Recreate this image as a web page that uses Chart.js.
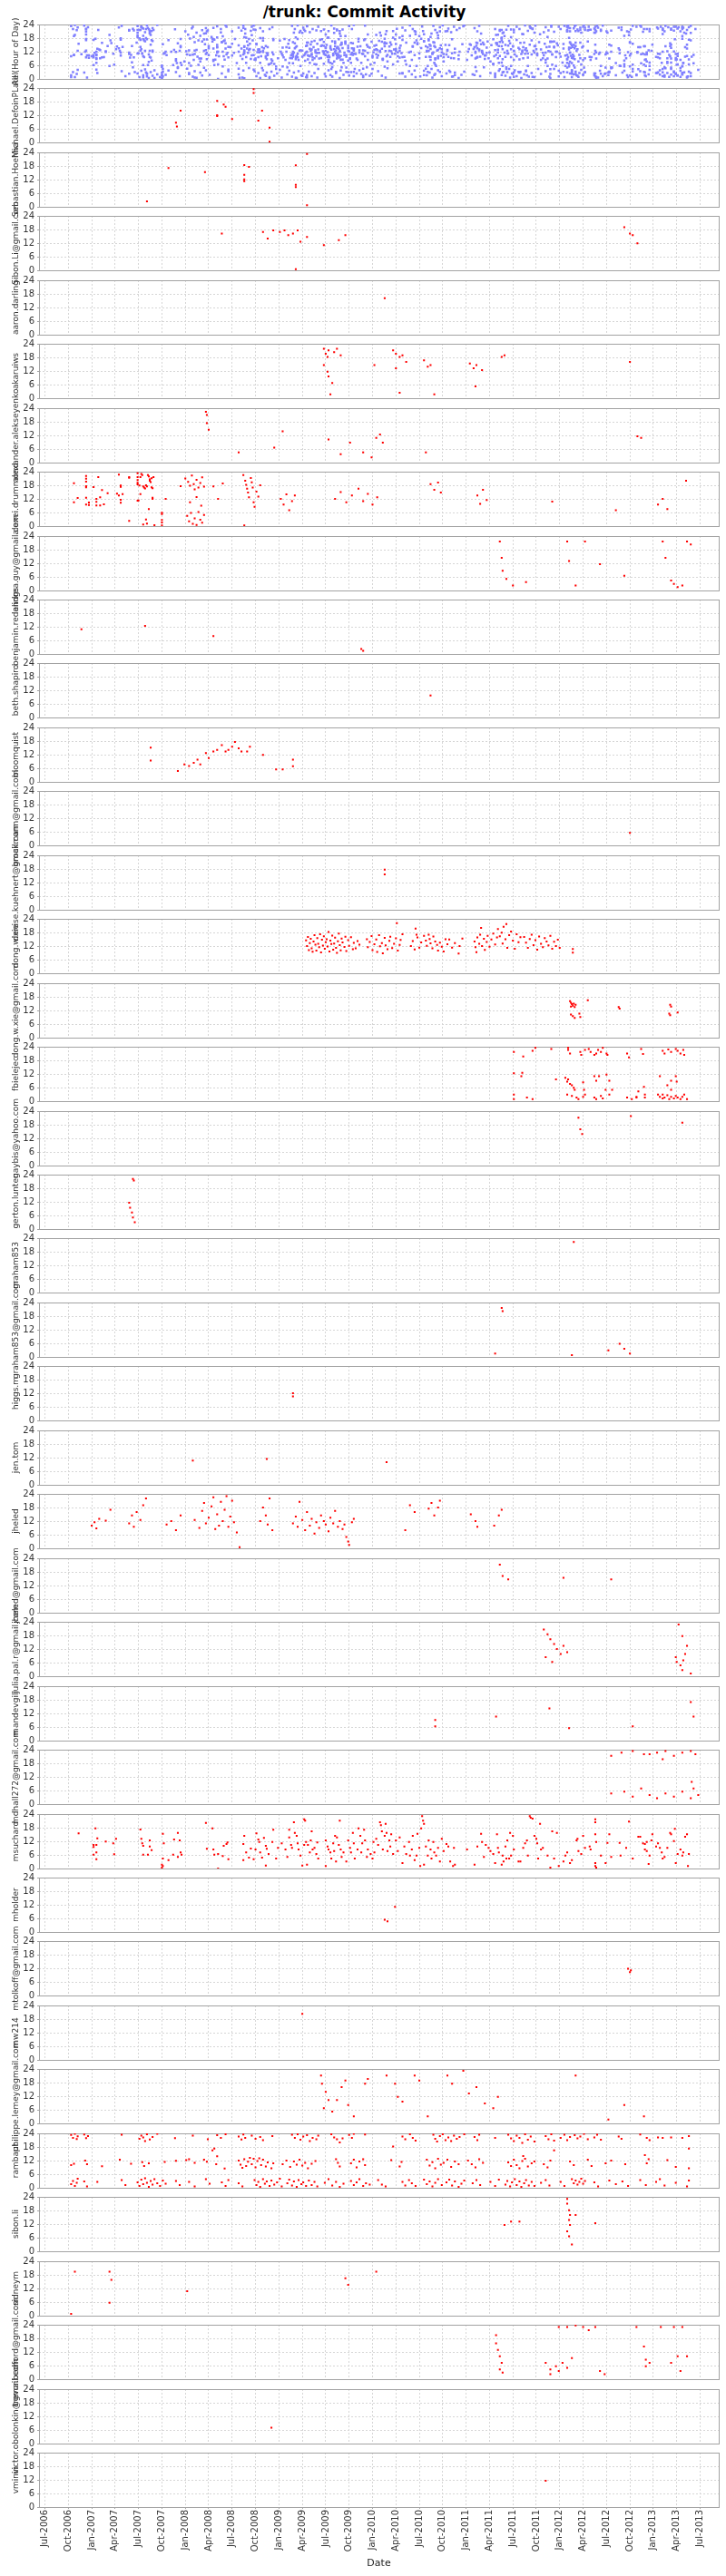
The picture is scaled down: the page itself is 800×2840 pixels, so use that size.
<!DOCTYPE html>
<html><head><meta charset="utf-8">
<script src="https://cdn.jsdelivr.net/npm/chart.js@4.4.1/dist/chart.umd.min.js"></script>
<style>
html,body{margin:0;padding:0;background:#fff;}
body{width:800px;height:2840px;position:relative;overflow:hidden;}
#title{position:absolute;left:0;top:3px;width:803px;text-align:center;font:bold 17px "DejaVu Sans";line-height:20px;color:#000;}
canvas{position:absolute;left:0;}
</style></head><body>
<div id="title">/trunk: Commit Activity</div>
<script>
// ---- axis labels ----
const xTickLabels = ['Jul-2006','Oct-2006','Jan-2007','Apr-2007','Jul-2007','Oct-2007','Jan-2008','Apr-2008','Jul-2008','Oct-2008','Jan-2009','Apr-2009','Jul-2009','Oct-2009','Jan-2010','Apr-2010','Jul-2010','Oct-2010','Jan-2011','Apr-2011','Jul-2011','Oct-2011','Jan-2012','Apr-2012','Jul-2012','Oct-2012','Jan-2013','Apr-2013','Jul-2013'];
const hourTicks = [0,6,12,18,24];
const authorNames = ['Michael.DefoinPLatel','Sebastian.Hoehna','Sibon.Li@gmail.com','aaron.darling','akaruiws','alexander.alekseyenko','alexei.drummond','andrea.guy@gmail.com','benjamin.redelings','beth.shapiro','bloomquist','brockmann@gmail.com','denise.kuehnert@gmail.com','dong.w.xie','dong.w.xie@gmail.com','fbielejec','gaybis@yahoo.com','gerton.lunter','graham853','graham853@gmail.com','higgs.m','jen.tom','jheled','jheled@gmail.com','julia.pal.r@gmail.com','mandevgill','mdhall272@gmail.com','msuchard','mholder','mtolkoff@gmail.com','mw214','philippe.lemey@gmail.com','rambaut','sibon.li','sidneym','trevor.bedford@gmail.com','victor.obolonkin@gmail.com','vminin'];

// ---- commits per author: [decimal year, hour of day] ----
const defoinPlatel = [[2007.95,14.0],[2007.90,8.7],[2007.91,7.0],[2008.34,18.3],[2008.34,12.0],[2008.34,11.6],[2008.41,16.7],[2008.43,15.7],[2008.50,10.3],[2008.73,23.5],[2008.73,21.8],[2008.78,9.6],[2008.82,14.0],[2008.90,6.5],[2008.90,0.3]];
const hoehna = [[2007.59,2.4],[2007.82,17.1],[2008.21,15.3],[2008.63,18.4],[2008.63,14.1],[2008.63,12.1],[2008.63,11.3],[2008.68,17.6],[2009.18,18.3],[2009.18,9.7],[2009.18,8.7],[2009.30,23.3],[2009.30,0.7]];
const sibonLiGmail = [[2008.39,16.2],[2008.83,16.9],[2008.88,14.0],[2008.94,17.6],[2009.01,16.9],[2009.06,17.6],[2009.10,15.5],[2009.15,16.2],[2009.20,17.6],[2009.23,12.6],[2009.30,14.7],[2009.18,0.5],[2009.48,11.1],[2009.64,13.3],[2009.71,15.5],[2012.69,19.0],[2012.75,16.2],[2012.78,15.5],[2012.83,11.9]];
const aaronDarling = [[2010.13,16.1]];
const akaruiws = [[2009.48,21.8],[2009.50,19.6],[2009.52,18.2],[2009.53,21.1],[2009.59,20.3],[2009.62,21.8],[2009.66,18.9],[2009.48,14.6],[2009.52,11.7],[2009.53,9.6],[2009.55,1.7],[2009.57,6.7],[2010.02,14.6],[2010.22,21.1],[2010.25,19.6],[2010.29,18.2],[2010.32,18.9],[2010.36,16.0],[2010.25,13.2],[2010.29,2.4],[2010.55,16.7],[2010.59,13.9],[2010.62,14.6],[2010.66,1.7],[2011.04,15.3],[2011.08,13.2],[2011.11,14.6],[2011.17,12.4],[2011.10,5.2],[2011.38,18.2],[2011.41,18.9],[2012.75,16.0]];
const alekseyenko = [[2008.22,22.4],[2008.23,21.0],[2008.23,17.4],[2008.25,14.5],[2008.57,4.5],[2008.95,6.6],[2009.04,13.8],[2009.53,10.2],[2009.66,3.7],[2009.76,8.8],[2009.90,4.5],[2009.99,2.3],[2010.04,10.9],[2010.08,12.4],[2010.11,8.8],[2010.57,4.5],[2012.83,11.6],[2012.87,10.9]];
const drummond = [[2006.81,18.9],[2006.81,10.5],[2006.85,12.4],[2006.94,22.1],[2006.94,20.9],[2006.94,19.6],[2006.94,17.6],[2006.94,17.1],[2006.94,12.5],[2006.94,9.5],[2006.97,10.4],[2006.97,9.3],[2007.02,17.2],[2007.05,12.0],[2007.05,10.7],[2007.05,9.1],[2007.07,21.6],[2007.09,12.7],[2007.09,9.1],[2007.11,15.9],[2007.13,9.6],[2007.17,14.5],[2007.27,14.3],[2007.29,22.7],[2007.29,13.5],[2007.31,17.9],[2007.31,17.3],[2007.31,11.6],[2007.31,10.3],[2007.33,14.1],[2007.40,21.6],[2007.40,21.3],[2007.40,2.3],[2007.49,23.3],[2007.49,21.6],[2007.49,20.3],[2007.49,19.1],[2007.49,18.4],[2007.49,11.2],[2007.50,11.3],[2007.51,17.9],[2007.52,21.6],[2007.52,14.1],[2007.53,23.0],[2007.54,22.5],[2007.55,17.5],[2007.55,0.7],[2007.56,17.0],[2007.57,16.6],[2007.58,18.0],[2007.58,2.9],[2007.59,17.5],[2007.59,1.1],[2007.60,22.5],[2007.61,21.9],[2007.61,7.5],[2007.62,20.6],[2007.62,20.0],[2007.63,19.4],[2007.64,21.1],[2007.64,17.1],[2007.65,16.7],[2007.65,12.5],[2007.65,12.0],[2007.66,21.6],[2007.67,0.4],[2007.75,5.9],[2007.75,5.3],[2007.75,2.7],[2007.75,1.6],[2007.75,0.3],[2007.79,12.0],[2007.95,17.6],
[2008.00,21.0],[2008.03,19.5],[2008.05,17.8],[2008.07,22.3],[2008.09,18.5],[2008.10,16.2],[2008.12,20.4],[2008.14,17.0],[2008.16,19.0],[2008.18,21.5],[2008.20,17.4],[2008.02,4.5],[2008.04,2.1],[2008.06,5.8],[2008.08,1.0],[2008.10,3.4],[2008.12,0.5],[2008.14,6.2],[2008.16,2.8],[2008.18,1.5],[2008.20,4.9],[2008.05,10.5],[2008.12,12.8],[2008.17,9.0],[2008.30,17.5],[2008.35,12.0],[2008.40,18.8],[2008.62,22.5],[2008.64,20.0],[2008.65,18.2],[2008.66,16.5],[2008.67,14.8],[2008.68,12.7],[2008.70,21.2],[2008.71,19.3],[2008.72,17.0],[2008.73,10.5],[2008.74,8.5],[2008.76,15.2],[2008.78,13.0],[2008.63,0.3],[2008.80,18.0],[2009.02,12.0],[2009.05,9.5],[2009.08,14.0],[2009.11,7.0],[2009.14,11.0],[2009.17,13.5],[2009.60,12.0],[2009.66,15.0],[2009.72,10.5],[2009.78,13.5],[2009.85,16.5],[2009.90,11.0],[2009.95,14.2],[2010.00,9.5],[2010.05,12.7],[2010.62,18.5],[2010.66,16.0],[2010.70,19.2],[2010.73,14.8],[2011.12,13.5],[2011.15,9.8],[2011.18,16.0],[2011.22,11.5],[2011.92,10.8],[2012.60,7.0],[2013.05,9.5],[2013.10,12.0],[2013.15,7.5],[2013.35,20.0]];
const guyGmail = [[2011.36,21.6],[2011.38,14.4],[2011.39,8.7],[2011.43,5.1],[2011.50,2.2],[2011.64,3.7],[2012.10,13.0],[2012.08,21.6],[2012.17,2.2],[2012.27,21.6],[2012.43,11.6],[2012.69,6.5],[2013.10,21.6],[2013.13,14.4],[2013.19,4.4],[2013.22,2.9],[2013.26,1.5],[2013.31,2.2],[2013.36,21.6],[2013.40,20.3]];
const redelings = [[2006.89,10.9],[2007.57,12.4],[2008.30,7.9],[2009.88,2.2],[2009.90,1.4]];
const shapiro = [[2010.62,9.7]];
const bloomquist = [[2007.63,15.1],[2007.63,9.4],[2007.92,4.8],[2007.99,7.7],[2008.04,7.0],[2008.09,8.4],[2008.13,9.8],[2008.16,7.7],[2008.22,12.7],[2008.25,10.5],[2008.30,13.4],[2008.34,14.1],[2008.39,16.2],[2008.43,13.4],[2008.46,14.1],[2008.50,15.5],[2008.53,17.6],[2008.57,14.8],[2008.60,13.4],[2008.66,13.4],[2008.69,15.5],[2008.83,11.9],[2008.97,5.5],[2009.04,5.5],[2009.15,6.9],[2009.15,9.8]];
const brockmann = [[2012.75,5.5]];
const kuehnert = [[2010.13,17.7],[2010.13,15.6]];
const dongXie = [[2009.29,14.5],[2009.30,12.0],[2009.31,16.0],[2009.32,10.2],[2009.33,13.3],[2009.34,15.2],[2009.35,11.0],[2009.36,9.5],[2009.37,14.0],[2009.38,16.8],[2009.39,12.6],[2009.40,10.0],[2009.41,15.5],[2009.42,13.0],[2009.43,11.5],[2009.44,17.2],[2009.45,9.2],[2009.46,14.8],[2009.47,12.2],[2009.48,16.3],[2009.49,10.8],[2009.50,13.7],[2009.51,15.0],[2009.52,11.8],[2009.53,18.2],[2009.54,9.6],[2009.55,14.4],[2009.56,12.9],[2009.57,16.6],[2009.58,10.4],[2009.59,13.1],[2009.60,15.7],[2009.61,11.2],[2009.62,9.0],[2009.63,14.1],[2009.64,17.5],[2009.65,12.4],[2009.66,10.1],[2009.67,15.3],[2009.68,13.6],[2009.70,11.6],[2009.71,16.1],[2009.72,9.8],[2009.74,14.6],[2009.75,12.1],[2009.77,15.9],[2009.79,10.6],[2009.80,13.4],[2009.82,11.0],[2009.84,14.2],[2009.86,12.6],
[2009.94,15.0],[2009.95,11.5],[2009.97,13.8],[2009.99,16.4],[2010.00,10.2],[2010.02,12.8],[2010.04,14.9],[2010.05,9.4],[2010.07,16.8],[2010.08,11.9],[2010.10,13.3],[2010.11,8.8],[2010.13,15.6],[2010.14,12.3],[2010.16,10.6],[2010.18,14.3],[2010.19,16.1],[2010.21,11.1],[2010.23,13.0],[2010.25,15.4],[2010.26,22.1],[2010.27,10.0],[2010.29,12.5],[2010.30,14.7],[2010.32,17.2],
[2010.41,12.0],[2010.43,14.2],[2010.45,10.5],[2010.46,19.7],[2010.47,17.0],[2010.48,15.8],[2010.50,11.3],[2010.52,13.6],[2010.55,16.5],[2010.57,14.4],[2010.58,12.1],[2010.60,17.0],[2010.61,15.1],[2010.62,13.2],[2010.64,11.0],[2010.65,16.2],[2010.67,14.0],[2010.69,12.5],[2010.70,10.0],[2010.72,13.5],[2010.74,11.7],[2010.76,9.6],[2010.78,15.0],[2010.80,12.8],[2010.82,14.9],[2010.85,11.3],[2010.88,13.3],[2010.92,8.7],[2010.93,12.0],[2010.96,15.3],
[2011.09,14.0],[2011.10,11.5],[2011.11,9.3],[2011.12,15.8],[2011.14,13.0],[2011.15,17.0],[2011.16,20.0],[2011.17,12.0],[2011.19,15.2],[2011.20,10.3],[2011.22,13.8],[2011.23,16.5],[2011.25,11.7],[2011.27,14.9],[2011.29,17.5],[2011.31,12.7],[2011.33,15.8],[2011.34,19.5],[2011.36,16.3],[2011.38,17.9],[2011.39,13.1],[2011.40,20.5],[2011.42,15.0],[2011.43,21.7],[2011.44,11.2],[2011.46,16.8],[2011.48,18.4],[2011.50,14.4],[2011.52,10.8],[2011.54,17.2],[2011.56,13.7],[2011.58,15.9],
[2011.62,16.0],[2011.64,13.5],[2011.66,11.2],[2011.68,15.1],[2011.70,17.0],[2011.72,12.4],[2011.74,14.6],[2011.76,10.4],[2011.78,16.2],[2011.80,13.0],[2011.82,11.5],[2011.84,15.5],[2011.86,14.0],[2011.88,12.3],[2011.90,16.5],[2011.92,10.8],[2011.94,13.9],[2011.96,12.0],[2011.98,14.8],[2012.00,11.2],[2012.14,10.7],[2012.14,9.1]];
const dongXieGmail = [[2012.11,16.1],[2012.12,15.4],[2012.13,14.8],[2012.14,14.1],[2012.15,15.0],[2012.16,13.5],[2012.12,13.7],[2012.17,14.5],[2012.30,16.5],[2012.12,10.2],[2012.14,9.5],[2012.16,8.7],[2012.21,10.6],[2012.22,9.1],[2012.63,13.5],[2012.64,12.8],[2013.18,14.5],[2013.19,13.7],[2013.17,10.6],[2013.18,9.9],[2013.26,11.1]];
const bielejec = [[2011.51,21.7],[2011.61,19.7],[2011.71,22.2],[2011.74,23.5],[2011.91,23.0],[2012.09,23.5],[2012.09,22.6],[2012.11,21.0],[2012.22,21.7],[2012.23,20.4],[2012.27,22.6],[2012.31,23.0],[2012.33,21.7],[2012.37,20.4],[2012.39,21.0],[2012.41,22.6],[2012.44,21.7],[2012.46,23.5],[2012.50,21.0],[2012.51,20.4],[2012.72,21.0],[2012.74,19.3],[2012.87,23.0],[2012.89,20.8],[2013.10,22.2],[2013.12,21.0],[2013.16,22.8],[2013.19,21.7],[2013.24,23.0],[2013.26,22.2],[2013.29,21.0],[2013.32,22.6],[2013.33,20.4],
[2011.51,12.3],[2011.59,11.0],[2011.60,12.5],[2011.96,9.6],[2012.06,10.3],[2012.08,8.6],[2012.11,7.6],[2012.13,7.0],[2012.15,5.9],[2012.16,5.0],[2012.09,9.6],[2012.25,8.3],[2012.26,5.0],[2012.27,2.9],[2012.37,11.0],[2012.39,9.0],[2012.42,11.0],[2012.49,5.0],[2012.50,11.7],[2012.53,9.0],[2012.56,5.0],[2012.53,2.9],[2012.82,1.6],[2012.84,4.3],[2012.90,6.3],[2012.91,2.9],[2013.07,11.0],[2013.10,2.9],[2013.15,7.0],[2013.19,9.0],[2013.24,11.0],[2013.25,8.6],[2013.19,5.0],
[2011.51,2.9],[2011.51,0.9],[2011.65,1.6],[2011.71,0.9],[2012.08,2.9],[2012.13,2.3],[2012.18,1.6],[2012.20,0.9],[2012.25,1.9],[2012.37,1.6],[2012.39,0.9],[2012.44,2.3],[2012.46,1.2],[2012.72,1.6],[2012.77,0.9],[2012.82,1.9],[2012.91,1.6],[2013.05,2.9],[2013.07,1.9],[2013.10,1.2],[2013.12,1.6],[2013.15,2.6],[2013.17,0.9],[2013.19,1.9],[2013.22,1.2],[2013.24,2.3],[2013.26,1.6],[2013.29,0.9],[2013.31,1.9],[2013.33,2.9],[2013.36,0.9]];
const gaybis = [[2012.20,21.1],[2012.22,16.0],[2012.24,13.9],[2012.76,21.8],[2013.31,18.9]];
const lunter = [[2007.44,22.1],[2007.45,21.4],[2007.40,11.6],[2007.41,9.4],[2007.43,7.3],[2007.44,5.1],[2007.46,3.0]];
const graham853 = [[2012.15,22.3]];
const graham853Gmail = [[2011.38,21.6],[2011.39,20.2],[2011.31,1.5],[2012.13,0.8],[2012.52,2.9],[2012.64,5.8],[2012.69,3.6],[2012.75,1.5]];
const higgs = [[2009.15,12.0],[2009.15,10.6]];
const jenTom = [[2008.08,10.7],[2008.87,11.4],[2010.15,10.0]];
const heled = [[2007.00,10.0],[2007.03,11.5],[2007.05,8.8],[2007.08,13.0],[2007.15,12.2],[2007.20,17.0],[2007.40,11.0],[2007.43,14.5],[2007.45,9.5],[2007.48,16.0],[2007.52,12.5],[2007.55,19.0],[2007.58,22.0],[2007.80,10.5],[2007.85,12.0],[2007.90,8.0],[2007.95,14.5],[2008.10,12.5],[2008.15,9.0],[2008.18,16.5],[2008.20,20.0],[2008.22,11.0],[2008.25,13.5],[2008.28,18.5],[2008.30,22.5],[2008.32,8.5],[2008.34,15.0],[2008.36,10.0],[2008.38,20.5],[2008.40,12.0],[2008.42,17.0],[2008.44,23.0],[2008.46,9.5],[2008.48,14.0],[2008.50,21.0],[2008.52,11.5],[2008.55,7.0],[2008.58,0.5],[2008.80,12.0],[2008.83,18.0],[2008.86,14.5],[2008.88,10.5],[2008.90,22.0],[2008.93,8.0],[2009.15,11.0],[2009.18,14.0],[2009.20,9.5],[2009.22,20.5],[2009.25,12.5],[2009.28,8.0],[2009.30,16.0],[2009.33,10.0],[2009.35,13.0],[2009.38,6.5],[2009.40,11.5],[2009.43,9.0],[2009.45,14.5],[2009.48,12.0],[2009.50,10.5],[2009.53,7.5],[2009.55,13.5],[2009.58,11.0],[2009.60,16.5],[2009.63,9.5],[2009.65,12.0],[2009.68,8.5],[2009.70,10.5],[2009.72,5.0],[2009.74,3.0],[2009.75,1.5],[2009.78,11.5],[2009.80,13.0],[2010.35,8.0],[2010.40,19.0],[2010.45,16.0],[2010.60,17.5],[2010.63,20.0],[2010.66,14.5],[2010.70,18.0],[2010.72,21.0],[2011.05,15.0],[2011.10,12.0],[2011.12,9.5],[2011.30,10.0],[2011.35,14.5],[2011.38,17.0]];
const heledGmail = [[2011.36,21.2],[2011.39,16.2],[2011.45,14.7],[2012.04,15.4],[2012.55,14.7]];
const juliaPal = [[2011.83,20.6],[2011.87,18.5],[2011.90,16.3],[2011.94,14.2],[2011.97,12.0],[2012.01,9.8],[2012.04,13.4],[2012.08,10.6],[2011.85,8.4],[2011.92,6.3],[2013.24,8.4],[2013.25,6.3],[2013.29,4.8],[2013.31,2.7],[2013.32,7.0],[2013.34,9.8],[2013.36,13.4],[2013.27,22.8],[2013.31,17.7],[2013.40,1.2]];
const mandevgill = [[2010.67,9.1],[2010.67,6.3],[2011.32,10.6],[2011.89,14.2],[2012.10,5.5],[2012.78,6.3],[2013.40,17.0],[2013.43,10.6]];
const mdhall = [[2012.55,21.3],[2012.66,22.7],[2012.78,23.4],[2012.90,22.0],[2012.96,22.0],[2013.04,22.7],[2013.10,19.8],[2013.13,23.4],[2013.22,21.3],[2013.31,22.7],[2013.40,23.4],[2013.45,22.0],[2012.55,4.7],[2012.69,5.5],[2012.78,3.3],[2012.87,6.9],[2012.96,4.0],[2013.04,2.6],[2013.13,4.7],[2013.22,3.3],[2013.31,5.5],[2013.40,2.6],[2013.43,6.9],[2013.48,4.0],[2013.41,9.8]];
const suchard = [[2006.86,15.5],[2007.04,17.7],[2007.02,10.4],[2007.02,9.5],[2007.05,10.4],[2007.05,7.1],[2007.05,4.1],[2007.02,6.1],[2007.06,13.3],[2007.15,11.9],[2007.23,11.1],[2007.26,13.1],[2007.24,6.3],
[2007.52,17.2],[2007.53,13.1],[2007.54,11.1],[2007.55,10.0],[2007.55,6.1],[2007.60,6.1],[2007.62,12.4],[2007.64,8.1],[2007.62,9.7],[2007.76,15.3],[2007.77,11.1],[2007.76,4.4],[2007.75,1.7],[2007.75,0.4],[2007.76,1.1],[2007.82,3.7],[2007.87,6.1],[2007.88,12.8],[2007.92,15.7],[2007.94,12.4],[2007.95,7.1],[2007.96,6.1],[2007.92,5.1],
[2008.22,20.1],[2008.29,17.7],[2008.23,8.7],[2008.30,8.4],[2008.31,6.1],[2008.35,6.4],[2008.35,0.0],[2008.40,5.5],[2008.44,10.8],[2008.46,4.1],[2008.45,11.5],[2008.41,10.0],
[2008.62,10.8],[2008.63,14.4],[2008.62,3.7],[2008.65,7.1],[2008.68,4.8],[2008.70,8.8],[2008.73,4.1],[2008.75,8.4],[2008.76,15.5],[2008.78,12.8],[2008.79,11.7],[2008.80,7.1],[2008.82,4.8],[2008.84,13.5],[2008.86,10.0],[2008.86,1.3],[2008.87,8.7],[2008.89,6.4],[2008.93,11.7],[2008.94,17.1],[2008.97,4.4],[2008.99,9.1],[2009.03,11.1],[2009.07,8.4],[2009.09,5.1],[2009.11,17.1],[2009.11,13.7],[2009.13,10.4],[2009.14,9.1],[2009.16,20.4],[2009.17,15.7],[2009.19,14.4],[2009.20,11.1],[2009.21,8.4],[2009.23,5.7],[2009.25,1.3],[2009.27,10.4],[2009.27,21.7],[2009.28,21.1],[2009.29,11.7],[2009.30,1.7],[2009.31,10.4],[2009.33,7.1],[2009.34,12.4],[2009.35,16.4],[2009.36,8.4],[2009.38,9.1],[2009.40,6.4],[2009.41,11.5],[2009.42,4.4],
[2009.50,12.4],[2009.50,1.1],[2009.52,9.7],[2009.53,8.4],[2009.55,7.1],[2009.56,4.4],[2009.58,11.1],[2009.59,7.7],[2009.60,14.4],[2009.61,3.1],[2009.62,13.7],[2009.64,10.4],[2009.65,21.1],[2009.66,8.4],[2009.67,5.1],[2009.69,7.1],[2009.72,3.1],[2009.74,12.4],[2009.76,9.1],[2009.77,7.1],[2009.79,15.7],[2009.80,11.1],[2009.81,4.4],[2009.84,8.4],[2009.85,17.7],[2009.87,14.4],[2009.88,7.1],[2009.89,11.1],[2009.91,17.1],[2009.92,12.4],[2009.94,5.1],[2009.95,8.4],[2009.98,6.4],[2010.00,4.4],[2010.01,11.7],[2010.02,7.1],[2010.04,13.1],[2010.06,10.4],[2010.08,20.4],[2010.09,19.1],[2010.10,16.4],[2010.11,8.4],[2010.13,14.4],[2010.14,19.7],[2010.15,15.7],[2010.16,7.7],[2010.18,12.4],[2010.19,9.7],[2010.20,15.1],[2010.22,6.4],[2010.25,12.4],[2010.27,7.7],[2010.29,13.7],[2010.32,2.4],[2010.34,9.7],[2010.36,6.4],[2010.39,11.7],[2010.40,5.7],[2010.42,8.4],[2010.43,14.4],[2010.45,3.7],[2010.47,5.7],[2010.48,15.3],[2010.50,9.1],[2010.51,1.1],[2010.52,17.7],[2010.53,23.1],[2010.54,21.1],[2010.55,19.7],[2010.55,1.7],[2010.57,9.7],[2010.59,5.7],[2010.60,12.4],[2010.62,8.4],[2010.63,4.4],[2010.65,11.7],[2010.66,7.1],[2010.68,5.7],[2010.70,9.1],[2010.72,3.1],[2010.74,13.1],[2010.76,7.7],[2010.79,10.8],[2010.81,9.7],[2010.83,3.1],[2010.86,1.1],[2010.87,9.1],[2010.88,1.7],
[2011.01,8.4],[2011.09,1.7],[2011.12,9.7],[2011.16,15.3],[2011.17,11.7],[2011.19,5.1],[2011.21,10.4],[2011.24,9.1],[2011.26,7.7],[2011.29,6.4],[2011.31,2.4],[2011.33,15.1],[2011.34,9.1],[2011.35,7.1],[2011.38,1.7],[2011.39,5.7],[2011.40,3.1],[2011.42,9.7],[2011.43,4.4],[2011.44,12.4],[2011.46,4.4],[2011.47,15.7],[2011.48,5.7],[2011.50,14.4],[2011.51,8.4],[2011.56,3.1],[2011.58,3.1],[2011.61,9.1],[2011.63,11.1],[2011.65,12.4],[2011.66,5.7],[2011.68,23.1],[2011.69,22.4],[2011.71,22.0],[2011.73,14.4],[2011.75,13.1],[2011.76,11.1],[2011.77,4.4],[2011.79,19.7],[2011.80,8.4],[2011.82,9.1],[2011.87,5.7],[2011.90,0.4],[2011.92,16.4],[2011.94,4.4],[2011.97,15.7],[2011.99,1.1],[2012.04,3.1],[2012.06,5.7],[2012.08,7.1],[2012.11,2.4],[2012.13,3.7],[2012.18,12.4],[2012.19,13.1],[2012.20,7.7],[2012.23,6.4],[2012.25,14.4],[2012.27,9.1],[2012.32,9.7],[2012.33,8.4],[2012.38,21.7],[2012.38,20.4],[2012.38,15.1],[2012.39,11.7],[2012.38,2.4],[2012.38,1.1],[2012.39,0.4],[2012.44,5.7],[2012.49,2.4],[2012.51,11.3],[2012.53,15.1],[2012.55,5.1],[2012.64,11.3],[2012.65,5.7],[2012.71,9.1],[2012.74,20.7],[2012.78,4.4],[2012.84,14.0],[2012.86,14.0],[2012.89,11.1],[2012.91,8.4],[2012.93,7.7],[2012.95,2.0],[2012.96,5.7],[2012.98,12.4],[2012.99,15.1],[2013.03,9.7],[2013.05,11.1],[2013.07,9.1],[2013.09,7.1],[2013.10,4.4],[2013.12,5.1],[2013.15,9.1],[2013.18,15.7],[2013.19,15.1],[2013.22,12.1],[2013.23,17.5],[2013.24,2.4],[2013.26,6.4],[2013.29,8.4],[2013.31,5.7],[2013.32,7.1],[2013.34,14.0],[2013.36,15.1],[2013.37,1.1],[2013.38,6.4],[2012.93,11.7],[2012.91,10.8]];
const holder = [[2010.13,5.4],[2010.16,4.7],[2010.24,11.1]];
const tolkoff = [[2012.73,11.8],[2012.75,10.3],[2012.76,11.1]];
const mw214 = [[2009.25,20.3]];
const lemey = [[2009.45,21.1],[2009.46,17.5],[2009.50,13.9],[2009.53,10.3],[2009.48,6.7],[2009.57,5.2],[2009.62,10.3],[2009.67,16.0],[2009.71,18.9],[2009.74,8.1],[2009.80,3.1],[2009.92,17.5],[2009.95,19.6],[2010.15,21.1],[2010.24,17.5],[2010.27,11.7],[2010.32,9.6],[2010.45,21.1],[2010.50,18.9],[2010.59,3.1],[2010.80,21.1],[2010.85,17.5],[2010.97,23.2],[2011.03,13.2],[2011.11,16.0],[2011.20,8.8],[2011.29,6.7],[2011.34,11.7],[2012.17,21.1],[2012.52,1.7],[2012.69,8.1],[2012.90,3.1]];
const rambaut = [[2006.78,23.3],[2006.80,22.0],[2006.82,23.8],[2006.84,21.5],[2006.85,22.7],[2006.92,23.5],[2006.94,21.9],[2006.96,22.8],[2007.32,23.4],[2007.51,21.6],[2007.53,23.0],[2007.55,22.2],[2007.57,20.6],[2007.59,23.6],[2007.62,21.3],[2007.65,22.4],[2007.70,23.8],[2007.89,21.9],[2008.08,23.0],[2008.24,21.4],[2008.34,23.2],[2008.38,22.0],[2008.43,23.6],[2008.57,22.6],[2008.60,21.3],[2008.62,23.5],[2008.64,22.0],[2008.71,23.0],[2008.75,21.6],[2008.80,22.4],[2008.83,21.0],[2008.93,22.8],[2009.14,23.4],[2009.17,22.0],[2009.20,23.6],[2009.23,21.2],[2009.26,22.6],[2009.30,23.2],[2009.33,20.6],[2009.36,22.0],[2009.40,21.4],[2009.42,23.0],[2009.56,23.6],[2009.59,22.2],[2009.62,21.4],[2009.65,20.0],[2009.68,21.8],[2009.75,23.3],[2009.78,22.0],[2009.80,23.8],[2009.92,23.5],[2010.22,18.2],[2010.32,22.6],[2010.35,21.4],[2010.40,23.6],[2010.43,22.0],[2010.46,20.8],[2010.65,23.4],[2010.67,21.6],[2010.69,20.4],[2010.72,22.8],[2010.75,23.6],[2010.78,21.0],[2010.81,22.2],[2010.84,20.6],[2010.87,23.0],[2010.90,21.6],[2010.93,22.4],[2010.98,23.6],[2011.09,22.4],[2011.12,21.0],[2011.14,23.4],[2011.31,22.0],[2011.45,23.4],[2011.48,21.8],[2011.51,20.6],[2011.54,23.0],[2011.57,22.0],[2011.60,19.8],[2011.63,23.6],[2011.66,21.2],[2011.69,22.6],[2011.73,20.4],[2011.85,22.8],[2011.88,21.4],[2011.91,23.6],[2011.94,20.8],[2012.01,22.0],[2012.05,23.4],[2012.08,21.0],[2012.11,22.4],[2012.16,23.2],[2012.19,21.8],[2012.22,22.6],[2012.26,23.8],[2012.30,21.4],[2012.37,22.2],[2012.40,23.4],[2012.44,21.2],[2012.63,22.6],[2012.66,21.6],[2012.86,23.5],[2012.93,22.0],[2012.96,21.0],[2013.05,22.2],[2013.10,22.0],[2013.19,22.2],[2013.31,22.0],[2013.38,22.8],
[2008.29,16.5],[2008.31,17.3],[2008.34,13.9],[2011.61,14.0],[2011.94,16.5],[2012.91,14.4],[2013.38,17.3],
[2006.78,10.0],[2006.81,10.6],[2006.93,12.0],[2006.95,10.4],[2007.11,9.5],[2007.30,12.4],[2007.42,10.6],[2007.54,11.3],[2007.56,9.6],[2007.61,10.8],[2007.78,11.4],[2007.90,11.9],[2008.01,12.2],[2008.04,12.6],[2008.10,11.0],[2008.20,12.4],[2008.23,11.5],[2008.33,10.4],[2008.42,8.5],[2008.57,12.0],[2008.59,10.2],[2008.61,8.8],[2008.63,12.6],[2008.65,9.6],[2008.67,11.5],[2008.69,13.2],[2008.71,10.4],[2008.73,12.8],[2008.75,9.0],[2008.77,11.8],[2008.79,13.0],[2008.81,10.0],[2008.83,12.4],[2008.86,9.4],[2008.88,11.2],[2008.92,8.6],[2008.94,10.8],[2009.04,10.4],[2009.08,12.0],[2009.12,9.2],[2009.16,11.6],[2009.19,10.2],[2009.22,12.4],[2009.25,9.8],[2009.28,11.0],[2009.31,8.6],[2009.35,10.6],[2009.39,11.8],[2009.61,12.6],[2009.63,11.0],[2009.65,9.4],[2009.77,10.8],[2009.80,12.4],[2009.83,9.0],[2009.86,11.6],[2009.90,12.6],[2009.92,10.0],[2010.20,12.2],[2010.29,9.4],[2010.31,11.4],[2010.58,12.4],[2010.61,9.8],[2010.64,11.3],[2010.67,8.6],[2010.70,12.8],[2010.73,10.2],[2010.76,11.0],[2010.80,12.4],[2010.84,9.2],[2010.88,11.6],[2010.92,10.4],[2011.02,12.0],[2011.06,10.4],[2011.10,9.0],[2011.14,12.6],[2011.18,11.0],[2011.45,11.2],[2011.48,9.6],[2011.51,12.4],[2011.54,10.0],[2011.57,8.6],[2011.60,11.8],[2011.63,12.8],[2011.66,9.4],[2011.70,10.8],[2011.73,11.6],[2011.83,10.4],[2011.87,9.0],[2011.90,12.0],[2012.11,11.6],[2012.15,10.0],[2012.30,12.4],[2012.34,9.6],[2012.49,10.8],[2012.55,12.0],[2012.70,10.4],[2012.93,10.8],[2012.95,12.6],[2013.15,12.2],[2013.24,9.2],[2013.38,8.6],
[2006.78,1.6],[2006.80,3.0],[2006.82,0.8],[2006.84,2.2],[2006.85,4.0],[2006.92,2.8],[2006.95,0.6],[2007.06,2.6],[2007.32,3.4],[2007.36,1.2],[2007.49,2.4],[2007.51,0.8],[2007.53,3.6],[2007.55,1.6],[2007.57,4.2],[2007.59,2.2],[2007.61,0.4],[2007.63,3.0],[2007.65,1.4],[2007.67,3.8],[2007.70,2.0],[2007.73,0.8],[2007.76,3.2],[2007.79,1.8],[2007.90,3.0],[2007.94,1.2],[2008.04,2.6],[2008.10,0.6],[2008.22,3.8],[2008.26,1.8],[2008.39,2.4],[2008.43,0.8],[2008.46,3.4],[2008.57,2.0],[2008.61,0.6],[2008.74,3.4],[2008.76,1.2],[2008.78,2.6],[2008.80,0.4],[2008.83,3.8],[2008.85,1.8],[2008.87,2.8],[2008.90,0.8],[2008.92,3.2],[2008.95,1.4],[2008.98,2.4],[2009.01,4.0],[2009.03,0.6],[2009.09,2.0],[2009.11,3.6],[2009.14,1.0],[2009.16,2.8],[2009.19,0.4],[2009.21,3.4],[2009.24,1.6],[2009.26,2.4],[2009.29,0.8],[2009.32,3.2],[2009.35,1.2],[2009.38,2.6],[2009.41,0.6],[2009.49,2.2],[2009.53,3.8],[2009.57,1.0],[2009.61,2.6],[2009.65,0.4],[2009.69,1.8],[2009.77,3.0],[2009.80,1.2],[2009.83,2.4],[2009.86,3.8],[2009.90,0.8],[2009.93,2.0],[2009.97,1.4],[2010.06,3.4],[2010.10,1.4],[2010.14,0.6],[2010.32,2.6],[2010.35,1.0],[2010.39,3.4],[2010.42,2.0],[2010.46,0.8],[2010.55,3.6],[2010.58,1.6],[2010.61,2.8],[2010.64,0.6],[2010.67,2.2],[2010.70,3.8],[2010.74,1.2],[2010.79,2.4],[2010.82,3.6],[2010.85,1.0],[2010.88,2.8],[2010.92,0.4],[2010.95,1.8],[2010.98,3.2],[2011.07,2.0],[2011.11,3.4],[2011.15,1.2],[2011.26,2.6],[2011.31,0.8],[2011.35,3.6],[2011.42,1.4],[2011.44,3.0],[2011.47,0.6],[2011.49,2.4],[2011.52,3.8],[2011.54,1.2],[2011.57,2.8],[2011.59,0.4],[2011.62,2.0],[2011.64,3.4],[2011.67,1.0],[2011.70,2.6],[2011.73,0.8],[2011.80,2.2],[2011.85,3.4],[2011.89,1.0],[2012.01,2.6],[2012.05,0.8],[2012.13,3.8],[2012.15,2.0],[2012.17,3.2],[2012.19,1.4],[2012.21,2.6],[2012.23,4.0],[2012.25,1.8],[2012.27,3.0],[2012.37,2.4],[2012.41,0.6],[2012.53,3.2],[2012.60,1.6],[2012.67,2.8],[2012.73,0.8],[2012.86,3.4],[2012.92,1.2],[2013.03,2.6],[2013.07,3.8],[2013.12,1.0],[2013.24,2.2],[2013.36,0.6],[2013.38,3.2]];
const sibonLi = [[2011.41,11.6],[2011.48,13.1],[2011.57,13.1],[2012.08,23.1],[2012.08,21.0],[2012.10,18.1],[2012.11,16.0],[2012.10,13.8],[2012.11,11.6],[2012.08,8.8],[2012.10,6.6],[2012.13,3.0],[2012.17,16.0],[2012.38,12.4]];
const sidneym = [[2006.78,0.8],[2006.82,19.4],[2007.19,19.4],[2007.21,15.8],[2007.19,5.7],[2008.02,10.8],[2009.71,16.5],[2009.74,13.6],[2010.04,19.4]];
const bedford = [[2011.32,19.4],[2011.32,15.8],[2011.34,12.9],[2011.36,10.1],[2011.38,7.2],[2011.36,4.3],[2011.39,2.9],[2011.85,7.2],[2011.90,4.3],[2011.96,5.7],[2011.99,3.6],[2012.03,7.2],[2012.08,5.0],[2011.90,2.2],[2012.13,9.3],[2011.99,23.0],[2012.08,23.0],[2012.17,23.7],[2012.25,23.0],[2012.31,21.6],[2012.38,23.0],[2012.43,3.6],[2012.48,2.2],[2012.82,23.0],[2012.90,14.4],[2012.92,8.6],[2012.92,5.7],[2012.96,7.2],[2013.08,23.0],[2013.22,23.0],[2013.31,23.0],[2013.19,7.2],[2013.26,10.1],[2013.29,3.6],[2013.36,10.1]];
const obolonkin = [[2008.92,7.0]];
const minin = [[2011.85,11.6]];

const authorData = [defoinPlatel,hoehna,sibonLiGmail,aaronDarling,akaruiws,alekseyenko,drummond,guyGmail,redelings,shapiro,bloomquist,brockmann,kuehnert,dongXie,dongXieGmail,bielejec,gaybis,lunter,graham853,graham853Gmail,higgs,jenTom,heled,heledGmail,juliaPal,mandevgill,mdhall,suchard,holder,tolkoff,mw214,lemey,rambaut,sibonLi,sidneym,bedford,obolonkin,minin];
const allCommits = [].concat(...authorData);

// ---- drawing ----
Chart.defaults.font.family = 'DejaVu Sans';
const monthFrac = {Jan:0, Apr:0.25, Jul:0.5, Oct:0.75};
const xTickValues = xTickLabels.map(l => { const [m, y] = l.split('-'); return +y + monthFrac[m]; });
const X_MIN = 2006.437, X_MAX = 2013.699;

const framePlugin = {
  id: 'frame',
  beforeDatasetsDraw(chart) {
    const {ctx, chartArea: a} = chart;
    ctx.save();
    ctx.strokeStyle = '#a3a3a3';
    ctx.lineWidth = 1;
    ctx.strokeRect(Math.round(a.left) + 0.5, Math.round(a.top) + 0.5, Math.round(a.right - a.left), Math.round(a.bottom - a.top));
    ctx.restore();
  }
};

function makePanel(i, label, data, color, radius, isLast) {
  const plotTop = Math.round(27 + 70.447 * i);
  const padTop = 40, padBottom = isLast ? 0 : 40, xAxisH = isLast ? 69 : 0;
  const h = padTop + 60 + xAxisH + padBottom;
  const cv = document.createElement('canvas');
  cv.width = 800; cv.height = h;
  cv.style.width = '800px'; cv.style.height = h + 'px';
  cv.style.top = (plotTop - padTop) + 'px';
  document.body.appendChild(cv);
  new Chart(cv, {
    type: 'scatter',
    data: { datasets: [{ data: data.map(([x, y]) => ({x, y})), backgroundColor: color, borderWidth: 0, pointStyle: 'rect', pointRadius: radius, pointHoverRadius: radius }] },
    options: {
      responsive: false, animation: false, devicePixelRatio: 1, events: [],
      layout: { padding: { top: padTop, bottom: padBottom, left: 0, right: 8 } },
      plugins: { legend: { display: false }, tooltip: { enabled: false } },
      scales: {
        x: {
          type: 'linear', min: X_MIN, max: X_MAX,
          afterBuildTicks: s => { s.ticks = xTickValues.map(v => ({value: v})); },
          afterFit: s => { s.height = xAxisH; },
          grid: { color: '#d6d6d6', drawTicks: isLast, tickLength: 2, tickColor: '#a3a3a3' },
          border: { display: false, dash: [2, 2] },
          ticks: { display: isLast, autoSkip: false, minRotation: 90, maxRotation: 90, padding: 1, color: '#333', font: { size: 10 },
                   callback: (v, idx) => xTickLabels[idx] },
          title: { display: isLast, text: 'Date', color: '#222', font: { size: 11 }, padding: { top: 0, bottom: 0 } }
        },
        y: {
          min: 0, max: 24,
          afterBuildTicks: s => { s.ticks = hourTicks.map(v => ({value: v})); },
          afterFit: s => { s.width = 43; },
          grid: { color: '#d6d6d6', tickLength: 2, tickColor: '#a3a3a3' },
          border: { display: false, dash: [2, 2] },
          ticks: { color: '#333', padding: 3, font: { size: 10 } },
          title: { display: true, text: label, color: '#333', font: { size: 9 }, padding: { top: 12, bottom: 0 } }
        }
      }
    },
    plugins: [framePlugin]
  });
}

makePanel(0, 'All (Hour of Day)', allCommits, '#8080ff', 1.8, false);
authorNames.forEach((name, k) => makePanel(k + 1, name, authorData[k], '#ff0000', 1.45, k === authorNames.length - 1));
</script>
</body></html>
